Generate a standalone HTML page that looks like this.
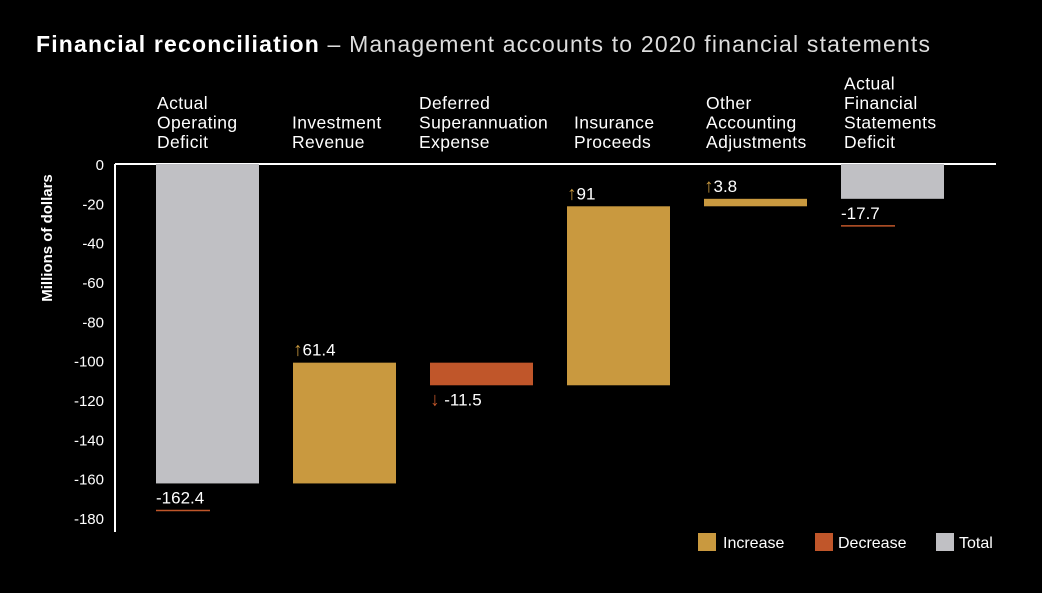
<!DOCTYPE html>
<html><head><meta charset="utf-8"><style>
html,body{margin:0;padding:0;background:#000;}
body{width:1042px;height:588px;overflow:hidden;font-family:"Liberation Sans",sans-serif;color:#fff;}
svg text{font-family:"Liberation Sans",sans-serif;}
</style></head><body>
<svg id="chart" width="1042" height="588" xmlns="http://www.w3.org/2000/svg">
<text x="36" y="52" fill="#fff" font-size="23" textLength="894" lengthAdjust="spacing"><tspan font-weight="bold">Financial reconciliation</tspan><tspan fill="#ddd"> – Management accounts to 2020 financial statements</tspan></text>
<text transform="translate(52,238) rotate(-90)" text-anchor="middle" fill="#fff" font-size="15" font-weight="bold">Millions of dollars</text>
<g id="axes"></g><g id="bars"></g><g id="labels"></g>
<g>
<rect x="698" y="533" width="18" height="18" fill="#c9993f"/>
<text x="723" y="548" fill="#fff" font-size="16">Increase</text>
<rect x="815" y="533" width="18" height="18" fill="#c0562a"/>
<text x="838" y="548" fill="#fff" font-size="16">Decrease</text>
<rect x="936" y="533" width="18" height="18" fill="#c0c0c4"/>
<text x="959" y="548" fill="#fff" font-size="16">Total</text>
</g>
</svg>
<script>
const categories=[["Actual","Operating","Deficit"],["Investment","Revenue"],["Deferred","Superannuation","Expense"],["Insurance","Proceeds"],["Other","Accounting","Adjustments"],["Actual","Financial","Statements","Deficit"]];
const values=[-162.4,61.4,-11.5,91,3.8,-17.7];
const kinds=["total","inc","dec","inc","inc","total"];
const ticks=[0,-20,-40,-60,-80,-100,-120,-140,-160,-180];
const NS="http://www.w3.org/2000/svg";
const yy=v=>164+(-v)*1.967;
const xL=i=>156+i*137,BW=103;
const col={total:"#c0c0c4",inc:"#c9993f",dec:"#c0562a"};
function mk(t,a,p){const e=document.createElementNS(NS,t);for(const k in a)e.setAttribute(k,a[k]);p.appendChild(e);return e;}
const axes=document.getElementById("axes"),bars=document.getElementById("bars"),labels=document.getElementById("labels");
let l=mk("line",{x1:115,x2:996,y1:164,y2:164,stroke:"#fff","stroke-width":2},axes);


l=mk("line",{x1:115,x2:115,y1:164,y2:532,stroke:"#fff","stroke-width":2},axes);


ticks.forEach(t=>{const e=mk("text",{x:104,y:yy(t)+6,"text-anchor":"end",fill:"#fff","font-size":15},axes);e.textContent=t;

});
let run=0;
const offs=[1,-1,-11,7,2,3];
values.forEach((v,i)=>{
 let a,b;
 if(kinds[i]==="total"){a=0;b=v;run=v;}else{a=run;b=run+v;run=b;}
 const top=Math.min(yy(a),yy(b)),bot=Math.max(yy(a),yy(b));
 const r=mk("rect",{x:xL(i),y:top,width:BW,height:bot-top,fill:col[kinds[i]]},bars);
 
 
 const lines=categories[i];
 lines.forEach((s,j)=>{const t=mk("text",{x:xL(i)+offs[i],y:148-(lines.length-1-j)*19.5,fill:"#fff","font-size":17.5,"letter-spacing":0.4},labels);t.textContent=s;
 
 });
 let lab;
 if(kinds[i]==="total"){
  lab=mk("text",{x:xL(i),y:bot+20,fill:"#fff","font-size":17},labels);lab.textContent=v;
  const u=mk("line",{x1:xL(i),x2:xL(i)+54,y1:bot+27,y2:bot+27,stroke:"#c0562a","stroke-width":1.5},labels);
  
  
 }else if(kinds[i]==="inc"){
  lab=mk("text",{x:xL(i),y:top-7,fill:"#fff","font-size":17},labels);
  lab.innerHTML='<tspan fill="#c9993f" font-size="19">↑</tspan>'+v;
 }else{
  lab=mk("text",{x:xL(i),y:bot+20,fill:"#fff","font-size":17},labels);
  lab.innerHTML='<tspan fill="#c0562a" font-size="19">↓</tspan> '+v;
 }
 
 
});
</script>
</body></html>
